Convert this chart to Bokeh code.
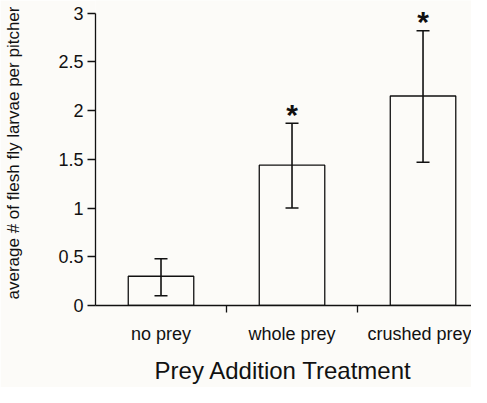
from bokeh.plotting import figure
from bokeh.models import FixedTicker, Whisker, ColumnDataSource, TeeHead, Range1d
from bokeh.embed import file_html
from bokeh.resources import INLINE
from bokeh.core.properties import value

categories = ["no prey", "whole prey", "crushed prey"]
means = [0.30, 1.44, 2.15]
lower = [0.10, 1.00, 1.47]
upper = [0.48, 1.87, 2.82]
significant = [False, True, True]
y_ticks = [0, 0.5, 1, 1.5, 2, 2.5, 3]

BG = "#fcfbf8"
INK = "#111111"
FONT = "Liberation Sans"

x_pos = [i + 0.5 for i in range(len(categories))]
boundaries = [float(i) for i in range(1, len(categories))]

p = figure(width=471, height=387, output_backend="svg", toolbar_location=None,
           x_range=Range1d(0, 2.87), y_range=Range1d(0, 3.13),
           min_border_left=95, min_border_right=0, min_border_top=0,
           min_border_bottom=82)
p.background_fill_color = BG
p.border_fill_color = BG
p.outline_line_color = None
p.xgrid.visible = False
p.ygrid.visible = False

src = ColumnDataSource(dict(x=x_pos, mean=means, lower=lower, upper=upper))
p.vbar(x="x", top="mean", bottom=0, width=0.5, source=src,
       fill_color=None, line_color=INK, line_width=1.3)

w = Whisker(base="x", lower="lower", upper="upper", source=src,
            line_color=INK, line_width=1.6, level="annotation",
            upper_head=TeeHead(size=13, line_color=INK, line_width=1.6),
            lower_head=TeeHead(size=13, line_color=INK, line_width=1.6))
p.add_layout(w)

sx = [x for x, s in zip(x_pos, significant) if s]
sy = [u for u, s in zip(upper, significant) if s]
p.text(x=sx, y=sy, text=["*"] * len(sx), text_align="center",
       text_baseline="alphabetic", text_font=value(FONT),
       text_font_style="bold", text_font_size="30px", text_color=INK,
       y_offset=-9)

xa = p.xaxis[0]
xa.ticker = FixedTicker(ticks=x_pos, minor_ticks=boundaries)
xa.major_label_overrides = {x: c for x, c in zip(x_pos, categories)}
xa.major_tick_line_color = None
xa.major_tick_in = 0
xa.major_tick_out = 0
xa.minor_tick_in = 0
xa.minor_tick_out = 7
xa.minor_tick_line_color = INK
xa.minor_tick_line_width = 1.3
xa.axis_line_color = INK
xa.axis_line_width = 1.3
xa.major_label_standoff = 11
xa.major_label_text_font = FONT
xa.major_label_text_font_size = "18px"
xa.major_label_text_color = INK
xa.axis_label = "Prey Addition Treatment"
xa.axis_label_text_font = FONT
xa.axis_label_text_font_size = "24px"
xa.axis_label_text_font_style = "normal"
xa.axis_label_text_color = INK
xa.axis_label_standoff = 10

ya = p.yaxis[0]
ya.ticker = FixedTicker(ticks=y_ticks, minor_ticks=[])
ya.bounds = (0, 3)
ya.major_tick_in = 0
ya.major_tick_out = 8
ya.major_tick_line_color = INK
ya.major_tick_line_width = 1.3
ya.minor_tick_out = 0
ya.axis_line_color = INK
ya.axis_line_width = 1.3
ya.major_label_standoff = 4
ya.major_label_text_font = FONT
ya.major_label_text_font_size = "18px"
ya.major_label_text_color = INK
ya.axis_label = "average # of flesh fly larvae per pitcher"
ya.axis_label_text_font = FONT
ya.axis_label_text_font_size = "17px"
ya.axis_label_text_font_style = "normal"
ya.axis_label_text_color = INK
ya.axis_label_standoff = 32

open("out.html", "w").write(file_html(p, INLINE))
